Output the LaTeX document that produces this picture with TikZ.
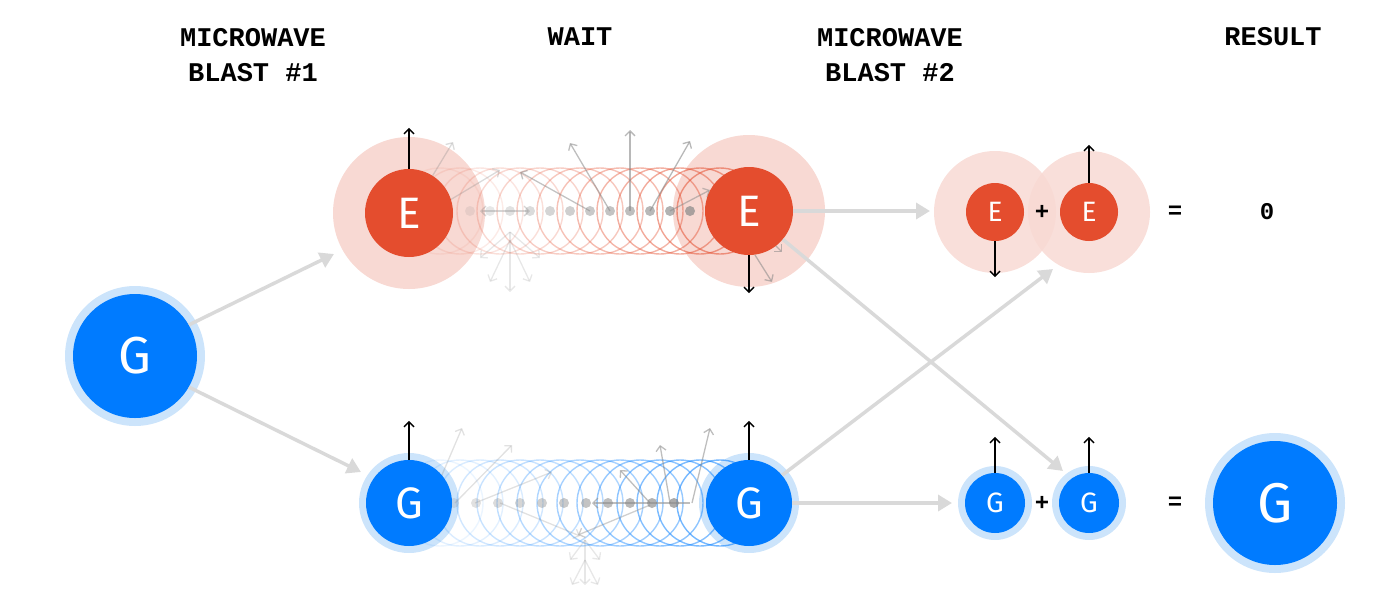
\documentclass[tikz,border=0pt]{standalone}
\usepackage{fontspec}
\setmainfont{Fira Sans}
\newfontfamily\headfont{Liberation Mono}
\usetikzlibrary{arrows.meta}
\definecolor{eRed}{HTML}{E44D2E}
\definecolor{ePink}{HTML}{F8D9D3}
\definecolor{gBlue}{HTML}{007BFF}
\definecolor{gHalo}{HTML}{CCE4FB}
\definecolor{connGray}{HTML}{D9D9D9}
\definecolor{spin}{HTML}{888888}
\tikzset{
  head/.style={font=\headfont\bfseries\fontsize{27}{35}\selectfont, align=center, text=black},
  ecirc/.style={circle, fill=eRed, text=white, inner sep=0pt, minimum size=#1, font=\fontsize{44}{44}\selectfont},
  gcirc/.style={circle, fill=gBlue, text=white, inner sep=0pt, minimum size=#1, font=\fontsize{44}{44}\selectfont},
  link/.style={draw=connGray, line width=3.5pt, -{Triangle[length=14pt,width=16pt]}},
  spinup/.style={black, line width=1.4pt, -{Straight Barb[length=5pt,width=10pt]}},
  ghost/.style={-{Straight Barb[length=5pt,width=10pt]}, line width=1.3pt, spin},
  sym/.style={font=\headfont\bfseries\fontsize{24}{24}\selectfont}
}
\begin{document}
\begin{tikzpicture}[x=1pt,y=-1pt]
\useasboundingbox (0,0) rectangle (1400,606);
% headings
\node[head] at (253,55) {MICROWAVE\\BLAST \#1};
\node[head] at (580,37) {WAIT};
\node[head] at (890,55) {MICROWAVE\\BLAST \#2};
\node[head] at (1273,37) {RESULT};

% halos
\fill[ePink] (409,213) circle (76);
\fill[ePink] (749,211) circle (76);
\fill[gHalo] (135,356) circle (70);
\fill[gHalo] (409,503) circle (50);
\fill[gHalo] (749,503) circle (50);

% ghost circles top
\foreach \i in {0,...,14}{
  \pgfmathsetmacro\op{0.08+0.033*\i}
  \draw[eRed, opacity=\op, line width=1.4pt] (440+20*\i,211) circle (43);
}
% ghost circles bottom
\foreach \i in {0,...,14}{
  \pgfmathsetmacro\op{0.08+0.033*\i}
  \draw[gBlue, opacity=\op, line width=1.4pt] (440+20*\i,503) circle (43);
}
% dots
\foreach \i in {0,...,11}{
  \pgfmathsetmacro\op{0.15+0.05*\i}
  \fill[spin, opacity=\op] (470+20*\i,211) circle (5);
}
\foreach \i in {0,...,11}{
  \pgfmathsetmacro\op{0.15+0.05*\i}
  \fill[spin, opacity=\op] (432+22*\i,503) circle (5);
}
% ghost spins top
\draw[ghost, opacity=0.6] (630,211) -- (630,130);
\draw[ghost, opacity=0.55] (610,211) -- (570,143);
\draw[ghost, opacity=0.6] (650,211) -- (690,141);
\draw[ghost, opacity=0.5] (670,211) -- (710,190);
\draw[ghost, opacity=0.5] (590,211) -- (520,172);
\draw[ghost, opacity=0.35] (510,211) -- (480,211);
\draw[ghost, opacity=0.35] (510,211) -- (530,211);
\draw[ghost, opacity=0.3] (430,180) -- (453,142);
\draw[ghost, opacity=0.3] (450,200) -- (500,170);
\draw[ghost, opacity=0.2] (510,232) -- (540,258);
\draw[ghost, opacity=0.2] (510,232) -- (480,258);
\draw[ghost, opacity=0.2] (510,232) -- (510,292);
\draw[ghost, opacity=0.2] (510,240) -- (530,282);
\draw[ghost, opacity=0.2] (510,240) -- (490,282);
\draw[ghost, opacity=0.55] (755,255) -- (772,282);
\draw[ghost, opacity=0.55] (770,240) -- (782,252);
% ghost spins bottom
\draw[ghost, opacity=0.55] (692,503) -- (710,428);
\draw[ghost, opacity=0.55] (670,503) -- (660,445);
\draw[ghost, opacity=0.55] (650,503) -- (620,470);
\draw[ghost, opacity=0.55] (690,503) -- (592,503);
\draw[ghost, opacity=0.4] (650,505) -- (578,535);
\draw[ghost, opacity=0.25] (430,503) -- (462,428);
\draw[ghost, opacity=0.25] (455,503) -- (512,445);
\draw[ghost, opacity=0.25] (475,503) -- (552,472);
\draw[ghost, opacity=0.25] (500,503) -- (580,536);
\draw[ghost, opacity=0.2] (585,540) -- (570,560);
\draw[ghost, opacity=0.2] (585,540) -- (600,560);
\draw[ghost, opacity=0.2] (585,540) -- (585,585);
\draw[ghost, opacity=0.2] (585,560) -- (572,585);
\draw[ghost, opacity=0.2] (585,560) -- (598,585);

% main circles
\node[gcirc=124pt, font=\fontsize{52}{52}\selectfont] (G0) at (135,356) {G};
\node[ecirc=88pt] (E1) at (409,213) {E};
\node[ecirc=88pt] (E2) at (749,211) {E};
\node[gcirc=86pt] (G1) at (409,503) {G};
\node[gcirc=86pt] (G2) at (749,503) {G};

% results
\fill[ePink, opacity=0.85] (995,212) circle (61);
\fill[ePink, opacity=0.85] (1089,212) circle (61);
\fill[gHalo] (995,503) circle (37);
\fill[gHalo] (1089,503) circle (37);
\fill[gHalo] (1275,503) circle (70);
\node[ecirc=58pt, font=\fontsize{28}{28}\selectfont] (R1) at (995,212) {E};
\node[ecirc=58pt, font=\fontsize{28}{28}\selectfont] (R2) at (1089,212) {E};
\node[gcirc=60pt, font=\fontsize{28}{28}\selectfont] (R3) at (995,503) {G};
\node[gcirc=60pt, font=\fontsize{28}{28}\selectfont] (R4) at (1089,503) {G};
\node[gcirc=124pt, font=\fontsize{56}{56}\selectfont] (R5) at (1275,503) {G};
\node[sym] at (1042,212) {+};
\node[sym] at (1042,503) {+};
\node[sym] at (1175,212) {=};
\node[sym] at (1175,503) {=};
\node[sym] at (1267,212) {0};

% spin arrows
\draw[spinup] (E1.north) -- ++(0,-41);
\draw[spinup] (E2.south) -- ++(0,38);
\draw[spinup] (G1.north) -- ++(0,-39);
\draw[spinup] (G2.north) -- ++(0,-39);
\draw[spinup] (R1.south) -- ++(0,36);
\draw[spinup] (R2.north) -- ++(0,-38);
\draw[spinup] (R3.north) -- ++(0,-36);
\draw[spinup] (R4.north) -- ++(0,-36);

% connectors
\coordinate (a1) at (334,254);
\coordinate (a2) at (361,472);
\coordinate (a3) at (930,211);
\coordinate (a4) at (952,503);
\coordinate (a5) at (1063,471);
\coordinate (a6) at (1053,269);
\draw[link] (G0.30) -- (a1);
\draw[link] (G0.-30) -- (a2);
\draw[link] (E2.east) -- (a3);
\draw[link] (G2.east) -- (a4);
\draw[link] (E2.-40) -- (a5);
\draw[link] (G2.40) -- (a6);
\end{tikzpicture}
\end{document}
